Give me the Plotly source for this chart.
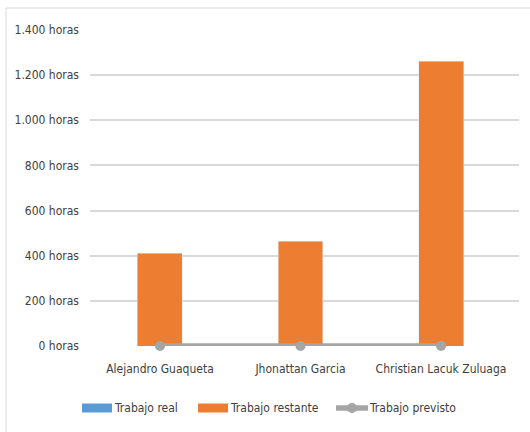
import plotly.graph_objects as go

# Team members and hours per series
personas = ["Alejandro Guaqueta", "Jhonattan Garcia", "Christian Lacuk Zuluaga"]
trabajo_real = [0, 0, 0]
trabajo_restante = [412, 465, 1262]
trabajo_previsto = [0, 0, 0]

# Y axis ticks
y_ticks = [0, 200, 400, 600, 800, 1000, 1200, 1400]
y_tick_labels = ["0 horas", "200 horas", "400 horas", "600 horas", "800 horas",
                 "1.000 horas", "1.200 horas", "1.400 horas"]

AZUL = "#5B9BD5"
NARANJA = "#ED7D31"
GRIS = "#A5A5A5"
TEXTO = "#404040"
FUENTE = "DejaVu Sans Condensed, Liberation Sans, sans-serif"
TAM = 12

W, H = 530, 432
L, R, T, B = 90, 11, 30, 86
plot_w = W - L - R
plot_h = H - T - B


def px_x(px):
    return (px - L) / plot_w


def px_y(py):
    return (H - B - py) / plot_h


fig = go.Figure()
fig.add_trace(go.Bar(x=personas, y=trabajo_real, name="Trabajo real",
                     marker_color=AZUL, showlegend=False))
fig.add_trace(go.Bar(x=personas, y=trabajo_restante, name="Trabajo restante",
                     marker_color=NARANJA, showlegend=False))
fig.add_trace(go.Scatter(x=personas, y=trabajo_previsto, name="Trabajo previsto",
                         mode="lines+markers", cliponaxis=False,
                         line=dict(color=GRIS, width=5.5),
                         marker=dict(color=GRIS, size=10), showlegend=False))

# Outer frame and legend drawn below the plot
shapes = [
    dict(type="rect", xref="paper", yref="paper",
         x0=px_x(6), x1=px_x(560), y0=px_y(470), y1=px_y(8),
         line=dict(color="#D9D9D9", width=1), fillcolor="rgba(0,0,0,0)", layer="below"),
    dict(type="rect", xref="paper", yref="paper",
         x0=px_x(82), x1=px_x(112), y0=px_y(412.5), y1=px_y(403.5),
         line=dict(width=0), fillcolor=AZUL),
    dict(type="rect", xref="paper", yref="paper",
         x0=px_x(198), x1=px_x(228), y0=px_y(412.5), y1=px_y(403.5),
         line=dict(width=0), fillcolor=NARANJA),
    dict(type="line", xref="paper", yref="paper",
         x0=px_x(336), x1=px_x(368), y0=px_y(408), y1=px_y(408),
         line=dict(color=GRIS, width=5.5)),
    dict(type="circle", xref="paper", yref="paper",
         x0=px_x(347), x1=px_x(357), y0=px_y(413), y1=px_y(403),
         line=dict(width=0), fillcolor=GRIS),
]
annotations = []
for x_txt, txt in [(112, "Trabajo real"), (228, "Trabajo restante"), (367, "Trabajo previsto")]:
    annotations.append(dict(x=px_x(x_txt), y=px_y(408), xref="paper", yref="paper",
                            text=txt, showarrow=False, xanchor="left", yanchor="middle",
                            font=dict(size=TAM, color=TEXTO, family=FUENTE)))

fig.update_layout(
    width=W, height=H,
    margin=dict(l=L, r=R, t=T, b=B),
    paper_bgcolor="white", plot_bgcolor="white",
    barmode="stack", bargap=0.68,
    font=dict(family=FUENTE, size=TAM, color=TEXTO),
    shapes=shapes, annotations=annotations,
    showlegend=False,
)
fig.update_xaxes(range=[-0.498, 2.555], showgrid=False, showline=False, zeroline=False,
                 ticks="", ticklabelstandoff=14,
                 tickfont=dict(size=TAM, color=TEXTO, family=FUENTE))
fig.update_yaxes(range=[0, 1400], tickvals=y_ticks, ticktext=y_tick_labels,
                 showgrid=True, gridcolor="#D9D9D9", gridwidth=1.5,
                 zeroline=False, showline=False, ticks="", ticklabelstandoff=10,
                 tickfont=dict(size=TAM, color=TEXTO, family=FUENTE))

fig.write_html("out.html")
